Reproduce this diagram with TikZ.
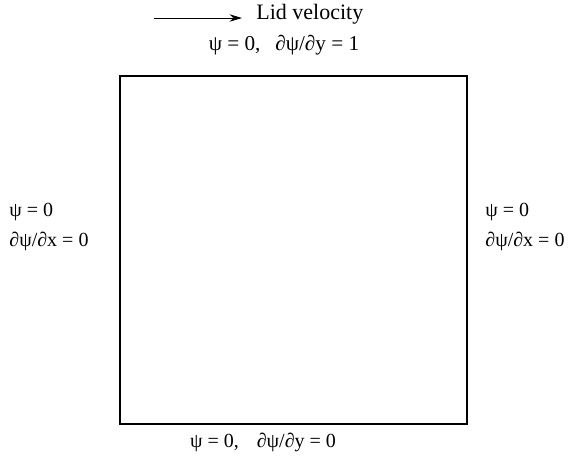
\documentclass[tikz,border=0pt]{standalone}
\usepackage{fontspec}
\setmainfont{Liberation Serif}
\usetikzlibrary{arrows.meta,positioning}

\begin{document}
\begin{tikzpicture}[x=0.5pt,y=-0.5pt,
  bc/.style={inner sep=0pt,font=\fontsize{10}{15}\selectfont},
  lbl/.style={inner sep=0pt,font=\fontsize{11}{13}\selectfont},
  wall/.style={line width=1pt},
  ar/.style={-{Stealth[length=2.2mm,width=1.3mm]},line width=0.5pt}
]
\useasboundingbox (0,0) rectangle (578,463);
\draw[wall] (120,76) rectangle (467,424);

\node[lbl,anchor=west] (lid) at (256,14) {Lid velocity};
\coordinate (lidS) at (154,18);
\coordinate (lidE) at (242,18);
\draw[ar] (lidS) -- (lidE);

\node[bc,font=\fontsize{10.6}{15}\selectfont] (top) at (284,45) {ψ = 0,\hspace{0.7em}∂ψ/∂y = 1};
\node[bc] (bot) at (263,442) {ψ = 0,\hspace{0.9em}∂ψ/∂y = 0};
\node[bc,anchor=west,align=left] (left) at (9,227) {ψ = 0\\∂ψ/∂x = 0};
\node[bc,anchor=west,align=left] (right) at (485,227) {ψ = 0\\∂ψ/∂x = 0};
\end{tikzpicture}
\end{document}
